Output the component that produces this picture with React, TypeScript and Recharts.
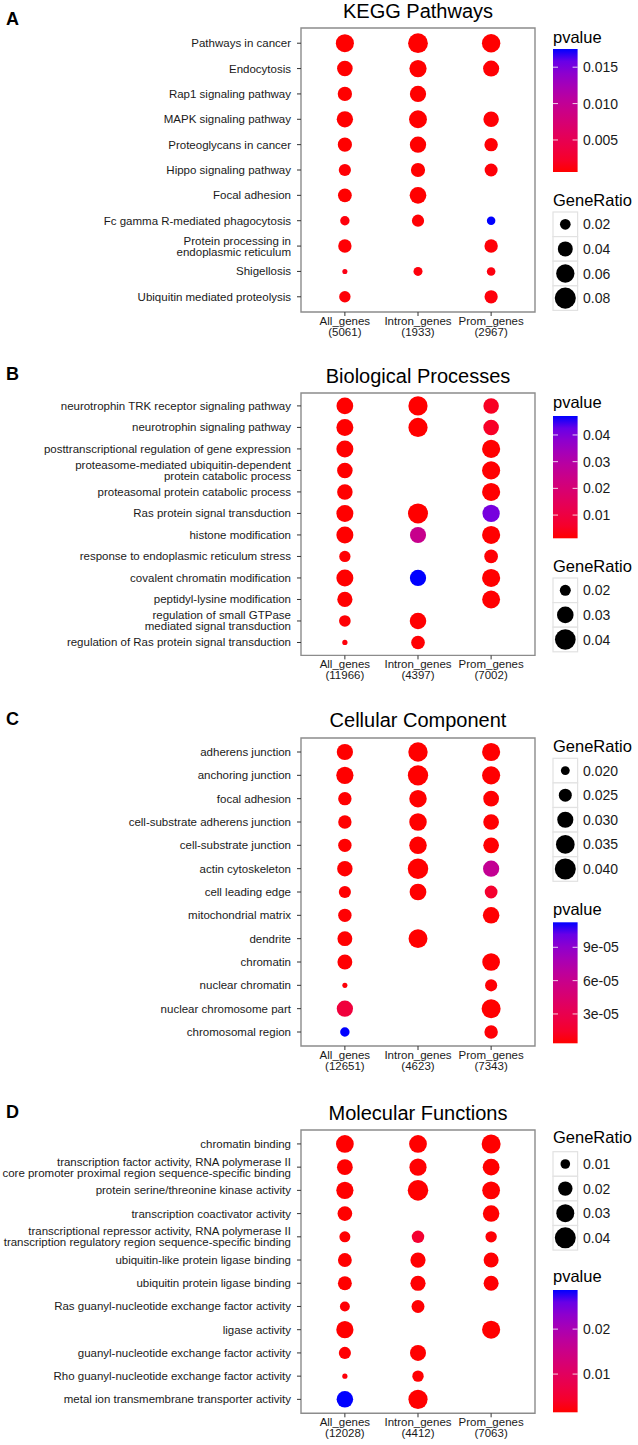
import React from "react";
import {
  ScatterChart,
  Scatter,
  XAxis,
  YAxis,
  ZAxis,
  Cell,
  ReferenceArea,
} from "recharts";

const FONT = '"Liberation Sans", Arial, Helvetica, sans-serif';
const groups = ["All_genes", "Intron_genes", "Prom_genes"];

// A - KEGG
const keggTerms = [
  "Pathways in cancer",
  "Endocytosis",
  "Rap1 signaling pathway",
  "MAPK signaling pathway",
  "Proteoglycans in cancer",
  "Hippo signaling pathway",
  "Focal adhesion",
  "Fc gamma R-mediated phagocytosis",
  "Protein processing in\nendoplasmic reticulum",
  "Shigellosis",
  "Ubiquitin mediated proteolysis",
];
const keggCounts = [5061, 1933, 2967];
const keggRatio = [
  [0.0587, 0.0704, 0.0607],
  [0.0434, 0.053, 0.0463],
  [0.0364, 0.0469, null],
  [0.0475, 0.0574, 0.0429],
  [0.0359, 0.0475, 0.0319],
  [0.0263, 0.0359, 0.0299],
  [0.0338, 0.0499, null],
  [0.0153, 0.0263, 0.0124],
  [0.0319, null, 0.0319],
  [0.004, 0.014, 0.0127],
  [0.0229, null, 0.0309],
];
const keggPvalue = [
  [0.0006, 0.0006, 0.0006],
  [0.0006, 0.0006, 0.0007],
  [0.0006, 0.0006, null],
  [0.0006, 0.0006, 0.0007],
  [0.0006, 0.0006, 0.0007],
  [0.0007, 0.0006, 0.0008],
  [0.0006, 0.0006, null],
  [0.0009, 0.0007, 0.0175],
  [0.0007, null, 0.0008],
  [0.0012, 0.0009, 0.001],
  [0.0008, null, 0.0009],
];
const keggRatioBreaks = ["0.02", "0.04", "0.06", "0.08"];
const keggPBreaks = ["0.005", "0.010", "0.015"];

// B - GO biological process
const bpTerms = [
  "neurotrophin TRK receptor signaling pathway",
  "neurotrophin signaling pathway",
  "posttranscriptional regulation of gene expression",
  "proteasome-mediated ubiquitin-dependent\nprotein catabolic process",
  "proteasomal protein catabolic process",
  "Ras protein signal transduction",
  "histone modification",
  "response to endoplasmic reticulum stress",
  "covalent chromatin modification",
  "peptidyl-lysine modification",
  "regulation of small GTPase\nmediated signal transduction",
  "regulation of Ras protein signal transduction",
];
const bpCounts = [11966, 4397, 7002];
const bpRatio = [
  [0.0303, 0.0361, 0.0278],
  [0.0309, 0.0361, 0.0278],
  [0.0309, null, 0.0335],
  [0.0278, null, 0.0335],
  [0.0278, null, 0.0335],
  [0.0309, 0.0382, 0.0316],
  [0.0309, 0.029, 0.0335],
  [0.0204, null, 0.0243],
  [0.0309, 0.0294, 0.0335],
  [0.0272, null, 0.033],
  [0.021, 0.0299, null],
  [0.0139, 0.0243, null],
];
const bpPvalue = [
  [0.0013, 0.0013, 0.0048],
  [0.0013, 0.0013, 0.0052],
  [0.0013, null, 0.0013],
  [0.0013, null, 0.0014],
  [0.0013, null, 0.0014],
  [0.0013, 0.0013, 0.041],
  [0.0013, 0.025, 0.0013],
  [0.0015, null, 0.0016],
  [0.0013, 0.0471, 0.0013],
  [0.0013, null, 0.0014],
  [0.0016, 0.0014, null],
  [0.002, 0.0015, null],
];
const bpRatioBreaks = ["0.02", "0.03", "0.04"];
const bpPBreaks = ["0.01", "0.02", "0.03", "0.04"];

// C - GO cellular component
const ccTerms = [
  "adherens junction",
  "anchoring junction",
  "focal adhesion",
  "cell-substrate adherens junction",
  "cell-substrate junction",
  "actin cytoskeleton",
  "cell leading edge",
  "mitochondrial matrix",
  "dendrite",
  "chromatin",
  "nuclear chromatin",
  "nuclear chromosome part",
  "chromosomal region",
];
const ccCounts = [12651, 4623, 7343];
const ccRatio = [
  [0.0302, 0.0365, 0.0338],
  [0.032, 0.0384, 0.0338],
  [0.0256, 0.0326, 0.0293],
  [0.0256, 0.0326, 0.0293],
  [0.0256, 0.0326, 0.0293],
  [0.0288, 0.0389, 0.0302],
  [0.0238, 0.0311, 0.0247],
  [0.0256, null, 0.0307],
  [0.0279, 0.0354, null],
  [0.0279, null, 0.033],
  [0.0171, null, 0.0238],
  [0.0303, null, 0.0356],
  [0.0206, null, 0.0257],
];
const ccPvalue = [
  [3.6e-6, 3.6e-6, 3.8e-6],
  [3.6e-6, 3.6e-6, 3.8e-6],
  [3.7e-6, 3.6e-6, 4.0e-6],
  [3.7e-6, 3.6e-6, 4.0e-6],
  [3.7e-6, 3.6e-6, 4.0e-6],
  [3.8e-6, 3.6e-6, 6.3e-5],
  [4.0e-6, 3.7e-6, 1.6e-5],
  [4.2e-6, null, 3.9e-6],
  [3.8e-6, 3.6e-6, null],
  [4.0e-6, null, 3.7e-6],
  [5.0e-6, null, 4.5e-6],
  [2.2e-5, null, 3.8e-6],
  [1.125e-4, null, 4.4e-6],
];
const ccRatioBreaks = ["0.020", "0.025", "0.030", "0.035", "0.040"];
const ccPBreaks = ["3e-05", "6e-05", "9e-05"];

// D - GO molecular function
const mfTerms = [
  "chromatin binding",
  "transcription factor activity, RNA polymerase II\ncore promoter proximal region sequence-specific binding",
  "protein serine/threonine kinase activity",
  "transcription coactivator activity",
  "transcriptional repressor activity, RNA polymerase II\ntranscription regulatory region sequence-specific binding",
  "ubiquitin-like protein ligase binding",
  "ubiquitin protein ligase binding",
  "Ras guanyl-nucleotide exchange factor activity",
  "ligase activity",
  "guanyl-nucleotide exchange factor activity",
  "Rho guanyl-nucleotide exchange factor activity",
  "metal ion transmembrane transporter activity",
];
const mfCounts = [12028, 4412, 7063];
const mfRatio = [
  [0.0294, 0.0294, 0.0332],
  [0.0236, 0.0276, 0.0264],
  [0.0276, 0.0384, 0.0294],
  [0.0207, null, 0.0256],
  [0.0125, 0.0155, 0.0132],
  [0.0187, 0.022, 0.0215],
  [0.0187, 0.022, 0.0215],
  [0.0105, 0.0166, null],
  [0.0276, null, 0.0304],
  [0.0147, 0.0242, null],
  [0.0043, 0.0132, null],
  [0.0256, 0.0339, null],
];
const mfPvalue = [
  [0.0015, 0.0015, 0.0015],
  [0.0015, 0.0016, 0.0015],
  [0.0015, 0.0015, 0.0015],
  [0.0015, null, 0.0015],
  [0.0016, 0.0048, 0.0017],
  [0.0015, 0.0016, 0.0016],
  [0.0015, 0.0016, 0.0016],
  [0.0017, 0.0016, null],
  [0.0015, null, 0.0015],
  [0.0016, 0.0015, null],
  [0.0019, 0.0016, null],
  [0.0287, 0.0015, null],
];
const mfRatioBreaks = ["0.01", "0.02", "0.03", "0.04"];
const mfPBreaks = ["0.01", "0.02"];

type Panel = {
  letter: string;
  title: string;
  terms: string[];
  counts: number[];
  ratio: (number | null)[][];
  pvalue: (number | null)[][];
  ratioBreaks: string[];
  pBreaks: string[];
  letterY: number;
  titleY: number;
  boxTop: number;
  boxBottom: number;
  sizeFit: [number, number]; // diameter^2 = a + b * ratio
  bar: { titleY: number; top: number; bottom: number };
  keys: { titleY: number; top: number };
};

const panels: Panel[] = [
  {
    letter: "A", title: "KEGG Pathways", terms: keggTerms, counts: keggCounts,
    ratio: keggRatio, pvalue: keggPvalue, ratioBreaks: keggRatioBreaks, pBreaks: keggPBreaks,
    letterY: 25, titleY: 18, boxTop: 28, boxBottom: 312, sizeFit: [4, 5510],
    bar: { titleY: 42.5, top: 49, bottom: 172 }, keys: { titleY: 206, top: 212 },
  },
  {
    letter: "B", title: "Biological Processes", terms: bpTerms, counts: bpCounts,
    ratio: bpRatio, pvalue: bpPvalue, ratioBreaks: bpRatioBreaks, pBreaks: bpPBreaks,
    letterY: 380, titleY: 383.3, boxTop: 393.3, boxBottom: 655.7, sizeFit: [-186, 15350],
    bar: { titleY: 408.3, top: 416, bottom: 538.3 }, keys: { titleY: 572.3, top: 578 },
  },
  {
    letter: "C", title: "Cellular Component", terms: ccTerms, counts: ccCounts,
    ratio: ccRatio, pvalue: ccPvalue, ratioBreaks: ccRatioBreaks, pBreaks: ccPBreaks,
    letterY: 725, titleY: 727.3, boxTop: 737.7, boxBottom: 1045.7, sizeFit: [-283, 18080],
    bar: { titleY: 915, top: 922.3, bottom: 1043.3 }, keys: { titleY: 751.7, top: 758.3 },
  },
  {
    letter: "D", title: "Molecular Functions", terms: mfTerms, counts: mfCounts,
    ratio: mfRatio, pvalue: mfPvalue, ratioBreaks: mfRatioBreaks, pBreaks: mfPBreaks,
    letterY: 1118, titleY: 1120, boxTop: 1130, boxBottom: 1413.3, sizeFit: [-23, 11550],
    bar: { titleY: 1282.3, top: 1290, bottom: 1412.3 }, keys: { titleY: 1143.3, top: 1151.7 },
  },
];

// red -> blue ramp in CIELAB, like ggplot's gradient
function toLin(c: number) {
  c /= 255;
  return c <= 0.04045 ? c / 12.92 : Math.pow((c + 0.055) / 1.055, 2.4);
}
function rgbToLab([r, g, b]: number[]) {
  const R = toLin(r), G = toLin(g), B = toLin(b);
  const X = (0.4124 * R + 0.3576 * G + 0.1805 * B) / 0.95047;
  const Y = 0.2126 * R + 0.7152 * G + 0.0722 * B;
  const Z = (0.0193 * R + 0.1192 * G + 0.9505 * B) / 1.08883;
  const f = (t: number) => (t > 0.008856 ? Math.cbrt(t) : 7.787 * t + 16 / 116);
  const fx = f(X), fy = f(Y), fz = f(Z);
  return [116 * fy - 16, 500 * (fx - fy), 200 * (fy - fz)];
}
function labToRgb([L, a, b]: number[]) {
  const fy = (L + 16) / 116, fx = fy + a / 500, fz = fy - b / 200;
  const inv = (t: number) => (t ** 3 > 0.008856 ? t ** 3 : (t - 16 / 116) / 7.787);
  const X = inv(fx) * 0.95047, Y = inv(fy), Z = inv(fz) * 1.08883;
  const R = 3.2406 * X - 1.5372 * Y - 0.4986 * Z;
  const G = -0.9689 * X + 1.8758 * Y + 0.0415 * Z;
  const B = 0.0557 * X - 0.204 * Y + 1.057 * Z;
  const g = (c: number) => {
    c = Math.min(1, Math.max(0, c));
    return Math.round(255 * (c <= 0.0031308 ? 12.92 * c : 1.055 * Math.pow(c, 1 / 2.4) - 0.055));
  };
  return `rgb(${g(R)},${g(G)},${g(B)})`;
}
const LOW = rgbToLab([255, 0, 0]);
const HIGH = rgbToLab([0, 0, 255]);
function ramp(t: number) {
  const u = Math.min(1, Math.max(0, t));
  return labToRgb(LOW.map((v, i) => v + (HIGH[i] - v) * u));
}

function stats(panel: Panel) {
  const n = panel.terms.length;
  const points: { col: number; row: number; ratio: number; p: number }[] = [];
  panel.terms.forEach((_, i) => {
    panel.ratio[i].forEach((r, j) => {
      const p = panel.pvalue[i][j];
      if (r === null || p === null) return;
      points.push({ col: j + 1, row: n - i, ratio: r, p });
    });
  });
  const ps = points.map((d) => d.p);
  const rs = points.map((d) => d.ratio);
  return {
    n,
    points,
    pmin: Math.min(...ps),
    pmax: Math.max(...ps),
    rmin: Math.min(...rs),
    rmax: Math.max(...rs),
  };
}

function TermTick(props: any) {
  const { x, y, payload, terms } = props;
  const label: string = terms[terms.length - payload.value] ?? "";
  const lines = label.split("\n");
  const lh = 11;
  const first = y + 4 - ((lines.length - 1) * lh) / 2;
  return (
    <text x={x} y={first} textAnchor="end" fontSize={11.5} fontFamily={FONT} fill="#1a1a1a">
      {lines.map((l, k) => (
        <tspan key={k} x={x} dy={k === 0 ? 0 : lh}>
          {l}
        </tspan>
      ))}
    </text>
  );
}

function GroupTick(props: any) {
  const { x, y, payload, counts } = props;
  const j = payload.value - 1;
  return (
    <text x={x} y={y + 7} textAnchor="middle" fontSize={11.5} fontFamily={FONT} fill="#1a1a1a">
      <tspan x={x}>{groups[j]}</tspan>
      <tspan x={x} dy={10.8}>
        ({counts[j]})
      </tspan>
    </text>
  );
}

function DotPanel({ panel }: { panel: Panel }) {
  const { n, points, pmin, pmax, rmin, rmax } = stats(panel);
  const [fa, fb] = panel.sizeFit;
  const area = (v: number) => (Math.PI / 4) * (fa + fb * v);
  const plotH = panel.boxBottom - panel.boxTop;
  const rowTicks = panel.terms.map((_, i) => i + 1);
  return (
    <div style={{ position: "absolute", left: 0, top: panel.boxTop - 10 }}>
      <ScatterChart width={545} height={plotH + 50} margin={{ top: 10, right: 10, bottom: 0, left: 0 }}>
        <XAxis
          type="number"
          dataKey="col"
          domain={[0.4, 3.6]}
          ticks={[1, 2, 3]}
          allowDataOverflow
          interval={0}
          axisLine={false}
          tickLine={{ stroke: "#333" }}
          tickSize={4}
          tickMargin={2}
          height={40}
          tick={(p: any) => <GroupTick {...p} counts={panel.counts} />}
        />
        <YAxis
          type="number"
          dataKey="row"
          domain={[0.4, n + 0.6]}
          ticks={rowTicks}
          allowDataOverflow
          interval={0}
          axisLine={false}
          tickLine={{ stroke: "#333" }}
          tickSize={4}
          tickMargin={6}
          width={301}
          tick={(p: any) => <TermTick {...p} terms={panel.terms} />}
        />
        <ZAxis type="number" dataKey="ratio" domain={[rmin, rmax]} range={[area(rmin), area(rmax)]} />
        <ReferenceArea
          x1={0.4}
          x2={3.6}
          y1={0.4}
          y2={n + 0.6}
          fill="none"
          stroke="#8c8c8c"
          strokeWidth={1.4}
          ifOverflow="visible"
        />
        <Scatter data={points} isAnimationActive={false}>
          {points.map((d, k) => (
            <Cell key={k} fill={ramp((d.p - pmin) / (pmax - pmin))} />
          ))}
        </Scatter>
      </ScatterChart>
    </div>
  );
}

function Legends({ panel, idx }: { panel: Panel; idx: number }) {
  const { pmin, pmax } = stats(panel);
  const [fa, fb] = panel.sizeFit;
  const { bar, keys } = panel;
  const gid = `bar${idx}`;
  const stops = Array.from({ length: 11 }, (_, k) => k / 10);
  const keyH = 24.6;
  return (
    <g fontFamily={FONT}>
      <defs>
        <linearGradient id={gid} x1="0" y1="1" x2="0" y2="0">
          {stops.map((s) => (
            <stop key={s} offset={s} stopColor={ramp(s)} />
          ))}
        </linearGradient>
      </defs>
      <text x={553} y={bar.titleY} fontSize={16.5} fill="#000">
        pvalue
      </text>
      <rect x={553} y={bar.top} width={24.6} height={bar.bottom - bar.top} fill={`url(#${gid})`} />
      {panel.pBreaks.map((lab) => {
        const v = Number(lab);
        const y = bar.bottom - ((v - pmin) / (pmax - pmin)) * (bar.bottom - bar.top);
        return (
          <g key={lab}>
            <line x1={553} x2={558} y1={y} y2={y} stroke="#fff" strokeOpacity={0.8} />
            <line x1={572.6} x2={577.6} y1={y} y2={y} stroke="#fff" strokeOpacity={0.8} />
            <text x={583} y={y + 5} fontSize={14} fill="#1a1a1a">
              {lab}
            </text>
          </g>
        );
      })}
      <text x={553} y={keys.titleY} fontSize={16.5} fill="#000">
        GeneRatio
      </text>
      {panel.ratioBreaks.map((lab, k) => {
        const v = Number(lab);
        const top = keys.top + k * keyH;
        const d = Math.sqrt(Math.max(fa + fb * v, 0));
        return (
          <g key={lab}>
            <rect x={553} y={top} width={keyH} height={keyH} fill="#fff" stroke="#e2e2e2" strokeWidth={1.2} />
            <circle cx={553 + keyH / 2} cy={top + keyH / 2} r={d / 2} fill="#000" />
            <text x={583} y={top + keyH / 2 + 5} fontSize={14} fill="#1a1a1a">
              {lab}
            </text>
          </g>
        );
      })}
    </g>
  );
}

export default function App() {
  return (
    <div style={{ position: "absolute", left: 0, top: 0, width: 638, height: 1445, background: "#fff" }}>
      {panels.map((p) => (
        <DotPanel key={p.letter} panel={p} />
      ))}
      <svg
        width={638}
        height={1445}
        style={{ position: "absolute", left: 0, top: 0, pointerEvents: "none" }}
      >
        {panels.map((p, i) => (
          <g key={p.letter}>
            <text x={6} y={p.letterY} fontSize={18} fontWeight="bold" fontFamily={FONT} fill="#000">
              {p.letter}
            </text>
            <text x={418} y={p.titleY} fontSize={20} textAnchor="middle" fontFamily={FONT} fill="#000">
              {p.title}
            </text>
            <Legends panel={p} idx={i} />
          </g>
        ))}
      </svg>
    </div>
  );
}
